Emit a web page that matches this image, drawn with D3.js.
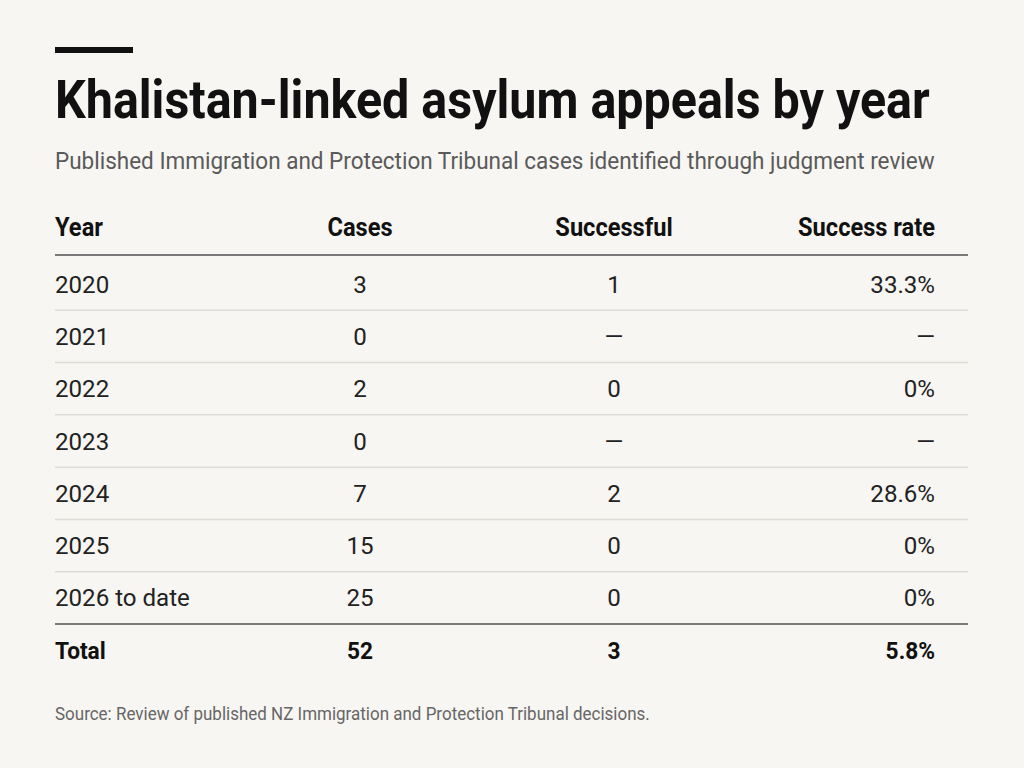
<!DOCTYPE html>
<html><head><meta charset="utf-8">
<script src="https://cdn.jsdelivr.net/npm/d3@7/dist/d3.min.js"></script>
<style>
html,body{margin:0;padding:0;background:#f8f6f2;}
svg{display:block;}
</style></head>
<body>
<svg id="c" width="1024" height="768"></svg>
<script>
const titleText = "Khalistan-linked asylum appeals by year";
const subtitleText = "Published Immigration and Protection Tribunal cases identified through judgment review";
const sourceText = "Source: Review of published NZ Immigration and Protection Tribunal decisions.";
const headers = ["Year", "Cases", "Successful", "Success rate"];
const years = ["2020", "2021", "2022", "2023", "2024", "2025", "2026 to date"];
const cases = [3, 0, 2, 0, 7, 15, 25];
const successful = ["1", "—", "0", "—", "2", "0", "0"];
const rates = ["33.3%", "—", "0%", "—", "28.6%", "0%", "0%"];
const totalRow = ["Total", "52", "3", "5.8%"];

const FONT = "Roboto, 'Noto Sans', sans-serif";
const svg = d3.select("#c");
svg.append("rect").attr("width",1024).attr("height",768).attr("fill","#f8f6f2");

function factor(str, size, weight, w){
  const t = svg.append("text").attr("font-family",FONT).attr("font-size",size).attr("font-weight",weight).text(str);
  const L = t.node().getComputedTextLength(); t.remove();
  return w / L;
}
function txt(parent, x, y, s, size, weight, fill, anchor, sx){
  return parent.append("text")
    .attr("transform",`translate(${x},${y}) scale(${sx},1)`)
    .attr("text-anchor",anchor||"start")
    .attr("font-family",FONT).attr("font-size",size).attr("font-weight",weight)
    .attr("fill",fill).text(s);
}

// top accent bar
svg.append("rect").attr("x",55).attr("y",47).attr("width",78).attr("height",6).attr("fill","#111");

const sxTitle = factor(titleText, 53, 700, 875);
txt(svg, 55, 118, titleText, 53, 700, "#111", "start", sxTitle);

const sxSub = factor(subtitleText, 24.5, 400, 880);
txt(svg, 55, 169, subtitleText, 24.5, 400, "#5a5a5a", "start", sxSub);

const sxHead = factor("Success rate", 25, 700, 137);
const sxBody = factor("2026 to date", 23, 400, 135);

// columns
const colX = d3.scaleOrdinal().domain(headers).range([55, 360, 614, 935]);
const colAnchor = d3.scaleOrdinal().domain(headers).range(["start","middle","middle","end"]);

const rowsAll = years.map((y,i)=>[y, String(cases[i]), successful[i], rates[i]]);
const y = d3.scaleBand().domain(d3.range(rowsAll.length)).range([258, 624]);

// header
headers.forEach(h=>txt(svg, colX(h), 236, h, 25, 700, "#111", colAnchor(h), sxHead));
svg.append("line").attr("x1",55).attr("x2",968).attr("y1",255).attr("y2",255)
  .attr("stroke","#7a7a7a").attr("stroke-width",2);

// rows
rowsAll.forEach((row,i)=>{
  const g = svg.append("g").attr("class","row").attr("transform",`translate(0,${y(i)})`);
  row.forEach((v,j)=>txt(g, colX(headers[j]), y.bandwidth()/2+8.5, v, 23, 400, "#222", colAnchor(headers[j]), sxBody));
  if(i < rowsAll.length-1){
    g.append("line").attr("x1",55).attr("x2",968).attr("y1",y.bandwidth()).attr("y2",y.bandwidth())
      .attr("stroke","#dedcd7").attr("stroke-width",1.5);
  }
});

const bottom = y(rowsAll.length-1)+y.bandwidth();
svg.append("line").attr("x1",55).attr("x2",968).attr("y1",bottom).attr("y2",bottom)
  .attr("stroke","#7a7a7a").attr("stroke-width",2);

// total
const tY = bottom + y.bandwidth()/2 + 8.5;
totalRow.forEach((v,j)=>txt(svg, colX(headers[j]), tY, v, 24, 700, "#111", colAnchor(headers[j]), sxHead));

const sxSrc = factor(sourceText, 19, 400, 595);
txt(svg, 55, 720, sourceText, 19, 400, "#666", "start", sxSrc);
</script>
</body></html>
